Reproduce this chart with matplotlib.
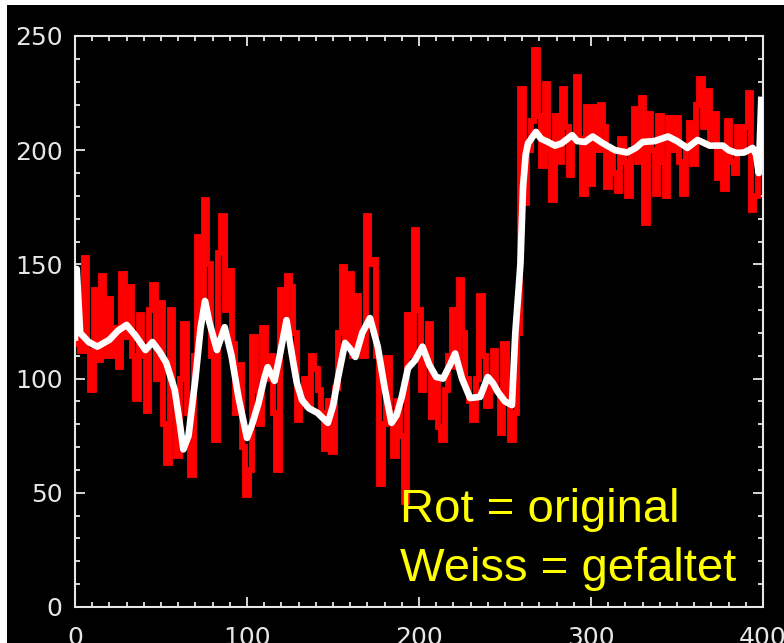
import matplotlib
matplotlib.use("Agg")
import matplotlib.pyplot as plt
from matplotlib.patches import Rectangle
import numpy as np

# red: original signal, sampled every 2 units
red_x = list(range(0, 400, 2))
red_y = [
    115, 122, 112, 153, 112, 95, 139, 108, 145, 110,
    135, 110, 122, 105, 146, 118, 140, 110, 91, 128,
    110, 86, 130, 141, 100, 133, 80, 63, 130, 95,
    66, 100, 124, 85, 58, 110, 162, 130, 178, 150,
    110, 73, 155, 171, 130, 147, 115, 85, 106, 70,
    49, 60, 118, 95, 80, 122, 100, 110, 85, 60,
    139, 120, 145, 140, 120, 82, 95, 100, 88, 110,
    104, 95, 85, 69, 90, 68, 96, 120, 149, 115,
    146, 110, 136, 120, 110, 171, 150, 152, 110, 54,
    80, 109, 85, 66, 90, 75, 46, 128, 110, 165,
    130, 95, 110, 124, 83, 100, 79, 73, 95, 110,
    130, 105, 143, 120, 100, 90, 82, 100, 136, 110,
    88, 100, 112, 95, 76, 115, 90, 73, 85, 120,
    227, 177, 200, 213, 244, 215, 193, 229, 200, 178,
    215, 195, 227, 210, 189, 205, 232, 205, 181, 219,
    185, 219, 200, 220, 210, 184, 200, 190, 182, 205,
    195, 180, 200, 218, 195, 223, 168, 216, 200, 181,
    215, 195, 180, 214, 200, 214, 195, 181, 200, 212,
    194, 220, 231, 210, 226, 205, 216, 188, 200, 183,
    213, 195, 190, 210, 200, 210, 225, 174, 180, 190,
]

# white: folded (smoothed) signal
white_x = [0, 1, 3, 8, 13, 20, 25, 30, 35, 41, 45, 49, 53, 58, 61, 63, 66, 70,
           73, 75.6, 78, 82.5, 87, 91, 95, 100, 103, 106.6, 110, 112, 116, 119,
           123, 126, 129, 132, 136, 141, 147, 150, 153, 157, 160, 163, 167,
           171.5, 176, 180, 184, 187, 190, 193.6, 197.7, 202, 206, 210, 214,
           218, 221, 225, 229.7, 235.5, 240, 243, 246, 250, 254, 256, 258, 259,
           260.5, 262, 263.4, 268, 271, 275, 279, 283, 289, 292, 296.5, 301,
           307, 314, 321, 326, 330, 337, 344.8, 350, 356, 362, 369, 376.7, 380,
           384.6, 389, 394, 396, 397.5, 399]
white_y = [118, 148, 120, 116, 114, 117, 121, 123.5, 119, 112.5, 116, 112, 107,
           95, 80, 69, 75, 100, 122, 134, 125, 112.5, 122.5, 110, 92, 74, 80, 89,
           100, 105, 99, 110, 125.6, 111, 98, 90.6, 87, 85, 80.6, 88, 100.7,
           115.6, 113, 109.5, 120, 126.5, 114, 96, 80.6, 84, 92, 104.6, 108, 114,
           106, 100.7, 100, 106, 111, 100, 91.5, 92, 100.7, 98, 94, 90, 88.4,
           120, 140, 150.6, 184, 198, 203, 208, 205, 203.6, 202, 203, 206.6, 204,
           203.6, 206, 203, 200, 199, 201, 203.6, 204, 206, 204, 201, 204.5, 202,
           202, 200, 198.8, 199, 201, 198, 190, 222]

label_top = "Rot = original"
label_bottom = "Weiss = gefaltet"

fig = plt.figure(figsize=(7.84, 6.43), dpi=100, facecolor="white")
# black screen area (white strip left and top like the screenshot)
fig.patches.append(Rectangle((7 / 784, 0), 1, 1 - 5 / 643, transform=fig.transFigure,
                             facecolor="black", edgecolor="none", zorder=-5))

ax = fig.add_axes([75 / 784, 36 / 643, 688 / 784, 571 / 643])
ax.set_zorder(2)
ax.set_facecolor("black")

ax.plot(red_x, red_y, color="#ff0000", lw=4.2, drawstyle="steps-mid",
        solid_joinstyle="miter", zorder=2)
ax.plot(white_x, white_y, color="white", lw=4.8, zorder=3)

ax.set_xlim(0, 400)
ax.set_ylim(0, 250)
ax.set_xticks(np.arange(0, 401, 100))
ax.set_xticks(np.arange(0, 401, 10), minor=True)
ax.set_yticks(np.arange(0, 251, 50))
ax.set_yticks(np.arange(0, 251, 10), minor=True)

fg = "#e6e6e6"
for s in ax.spines.values():
    s.set_color(fg)
    s.set_linewidth(1.5)
ax.tick_params(which="both", direction="in", top=True, right=True, colors=fg, width=1.3)
ax.tick_params(which="major", length=7.2)
ax.tick_params(which="minor", length=3.6)
ax.tick_params(axis="y", labelsize=18, pad=9, labelcolor=fg)
ax.tick_params(axis="x", labelsize=18, pad=14, labelcolor=fg)

ax.text(189, 37, label_top, color="#ffff00", fontsize=34, family="Liberation Sans",
        va="baseline", ha="left", zorder=4)
ax.text(189, 11.5, label_bottom, color="#ffff00", fontsize=34, family="Liberation Sans",
        va="baseline", ha="left", zorder=4)

fig.savefig("out.png", dpi=100, facecolor=fig.get_facecolor())
